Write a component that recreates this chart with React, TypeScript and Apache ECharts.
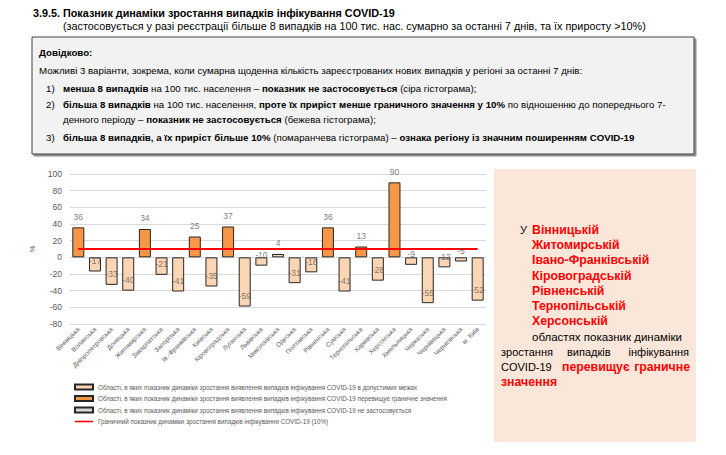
import React, { useEffect, useRef } from 'react';
import * as echarts from 'echarts';

const categories = [
  'Вінницька', 'Волинська', 'Дніпропетровська', 'Донецька', 'Житомирська',
  'Закарпатська', 'Запорізька', 'Ів.-Франківська', 'Київська', 'Кіровоградська',
  'Луганська', 'Львівська', 'Миколаївська', 'Одеська', 'Полтавська',
  'Рівненська', 'Сумська', 'Тернопільська', 'Харківська', 'Херсонська',
  'Хмельницька', 'Черкаська', 'Чернівецька', 'Чернігівська', 'м. Київ',
];
const growth = [36, -17, -33, -40, 34, -21, -41, 25, -35, 37, -59, -10, 4, -31, -18, 36, -41, 13, -28, 90, -9, -55, -12, -5, -52];
const threshold = 10;
const yMin = -80;
const yMax = 100;
const yStep = 20;

const seriesNames = [
  'Області, в яких показник динаміки зростання виявлення випадків інфікування COVID-19 в допустимих межах',
  'Області, в яких показник динаміки зростання виявлення випадків інфікування COVID-19 перевищує граничне значення',
  'Області, в яких показник динаміки зростання виявлення випадків інфікування COVID-19 не застосовується',
  'Граничний показник динаміки зростання випадків інфікування COVID-19 (10%)',
];
const exceedingRegions = ['Вінницькій', 'Житомирській', 'Івано-Франківській', 'Кіровоградській', 'Рівненській', 'Тернопільській', 'Херсонській'];

const SANS = '"Liberation Sans", Arial, sans-serif';
const GRAY = '#595959';

function txt(x: number, y: number, text: string, o: any = {}) {
  return {
    type: 'text', x, y, silent: true,
    style: {
      text, fill: o.fill || '#000', fontSize: o.size || 10, fontFamily: o.family || SANS,
      fontWeight: o.weight || 'normal', align: o.align || 'left', verticalAlign: 'middle', rich: o.rich,
    },
  };
}

function richDef(size: number, family: string) {
  return {
    b: { fontWeight: 'bold', fontSize: size, fontFamily: family, fill: '#000', color: '#000' },
    r: { fontWeight: 'normal', fontSize: size, fontFamily: family, fill: '#000', color: '#000' },
  };
}

export default function App() {
  const ref = useRef<HTMLDivElement>(null);
  useEffect(() => {
    const chart = echarts.init(ref.current!, null, { renderer: 'svg' });
    const IS = 9.7;
    const rich = richDef(IS, SANS);
    const PS = 11;
    const PB = 12.3;
    const graphic: any[] = [
      txt(33, 12.5, '3.9.5. Показник динаміки зростання випадків інфікування COVID-19', { size: 10.8, weight: 'bold' }),
      txt(63, 25.5, '(застосовується у разі реєстрації більше 8 випадків на 100 тис. нас. сумарно за останні 7 днів, та їх приросту >10%)', { size: 10.8 }),
      {
        type: 'rect', silent: true, shape: { x: 32, y: 37, width: 662, height: 117 },
        style: { fill: '#F2F2F2', stroke: '#404040', lineWidth: 1, shadowColor: 'rgba(0,0,0,0.45)', shadowOffsetX: 2, shadowOffsetY: 2, shadowBlur: 1 },
      },
      txt(39, 52, 'Довідково:', { size: IS, weight: 'bold' }),
      txt(39, 70, 'Можливі 3 варіанти, зокрема, коли сумарна щоденна кількість зареєстрованих нових випадків у регіоні за останні 7 днів:', { size: IS }),
      txt(46, 88, '1)', { size: IS }),
      txt(63, 88, '{b|менша 8 випадків}{r| на 100 тис. населення – }{b|показник не застосовується}{r| (сіра гістограма);}', { size: IS, rich }),
      txt(46, 104, '2)', { size: IS }),
      txt(63, 104, '{b|більша 8 випадків}{r| на 100 тис. населення, }{b|проте їх приріст менше граничного значення у 10%}{r| по відношенню до попереднього 7-}', { size: IS, rich }),
      txt(63, 119, '{r|денного періоду – }{b|показник не застосовується}{r| (бежева гістограма);}', { size: IS, rich }),
      txt(46, 137, '3)', { size: IS }),
      txt(63, 137, '{b|більша 8 випадків, а їх приріст більше 10%}{r| (помаранчева гістограма) – }{b|ознака регіону із значним поширенням COVID-19}', { size: IS, rich }),
      { type: 'rect', silent: true, shape: { x: 494, y: 169, width: 202, height: 273 }, style: { fill: '#FBE7DA' } },
      txt(520, 230, 'У', { size: PS }),
    ];
    exceedingRegions.forEach((r, i) => {
      graphic.push(txt(532, 230 + i * 15.2, r, { size: PB, weight: 'bold', fill: '#FF0000' }));
    });
    graphic.push(txt(532, 337, 'областях показник динаміки', { size: 11.5 }));
    graphic.push(txt(501, 352, 'зростання', { size: PS }));
    graphic.push(txt(567, 352, 'випадків', { size: PS }));
    graphic.push(txt(689, 352, 'інфікування', { size: PS, align: 'right' }));
    graphic.push(txt(501, 367, 'COVID-19', { size: PS }));
    graphic.push(txt(562, 367, 'перевищує', { size: PB, weight: 'bold', fill: '#FF0000' }));
    graphic.push(txt(690, 367, 'граничне', { size: PB, weight: 'bold', fill: '#FF0000', align: 'right' }));
    graphic.push(txt(501, 382, 'значення', { size: PB, weight: 'bold', fill: '#FF0000' }));

    const barBase = {
      type: 'bar', barWidth: 12, barGap: '-100%',
      itemStyle: { borderColor: '#262626', borderWidth: 1 },
    };
    const option: any = {
      animation: false,
      backgroundColor: '#fff',
      textStyle: { fontFamily: SANS },
      grid: { left: 70, top: 174, width: 416, height: 150, outerBoundsMode: 'none' },
      xAxis: {
        type: 'category', data: categories,
        axisLine: { show: false, onZero: false }, axisTick: { show: false },
        axisLabel: { rotate: 45, fontSize: 6.5, color: GRAY, margin: 4, interval: 0, fontFamily: SANS },
      },
      yAxis: {
        type: 'value', min: yMin, max: yMax, interval: yStep,
        name: '%', nameLocation: 'middle', nameGap: 28, nameRotate: 90,
        nameTextStyle: { fontSize: 8, color: GRAY },
        axisLine: { show: false }, axisTick: { show: false },
        axisLabel: { fontSize: 8.5, color: GRAY, margin: 8 },
        splitLine: { lineStyle: { color: '#D9D9D9', width: 1 } },
      },
      legend: {
        orient: 'vertical', left: 74, top: 383.5, padding: 0,
        itemWidth: 18, itemHeight: 5, itemGap: 4.5,
        textStyle: { fontSize: 6.3, color: GRAY, fontFamily: SANS, lineHeight: 7 },
        data: [
          { name: seriesNames[0], icon: 'rect' },
          { name: seriesNames[1], icon: 'rect' },
          { name: seriesNames[2], icon: 'rect' },
          { name: seriesNames[3], icon: 'path://M0,0H18V1.6H0Z' },
        ],
        selectedMode: false,
      },
      series: [
        { ...barBase, name: seriesNames[0], data: growth.map(v => (v <= threshold ? v : '-')), itemStyle: { ...barBase.itemStyle, color: '#FCD5B5' } },
        { ...barBase, name: seriesNames[1], data: growth.map(v => (v > threshold ? v : '-')), itemStyle: { ...barBase.itemStyle, color: '#F79646' } },
        { ...barBase, name: seriesNames[2], data: [], itemStyle: { ...barBase.itemStyle, color: '#D9D9D9' } },
        {
          type: 'line', name: seriesNames[3], data: categories.map(() => threshold),
          symbol: 'none', lineStyle: { color: '#FF0000', width: 2 }, itemStyle: { color: '#FF0000' }, z: 5,
        },
        {
          type: 'scatter', name: 'labels', data: growth, symbolSize: 0.1, itemStyle: { color: 'transparent' }, z: 6,
          label: { show: true, position: 'top', distance: 6, fontSize: 8.5, color: GRAY, fontFamily: SANS },
          silent: true,
        },
      ],
      graphic,
    };
    chart.setOption(option);
    return () => chart.dispose();
  }, []);
  return <div ref={ref} style={{ position: 'absolute', left: 0, top: 0, width: 726, height: 455, background: '#fff' }} />;
}
